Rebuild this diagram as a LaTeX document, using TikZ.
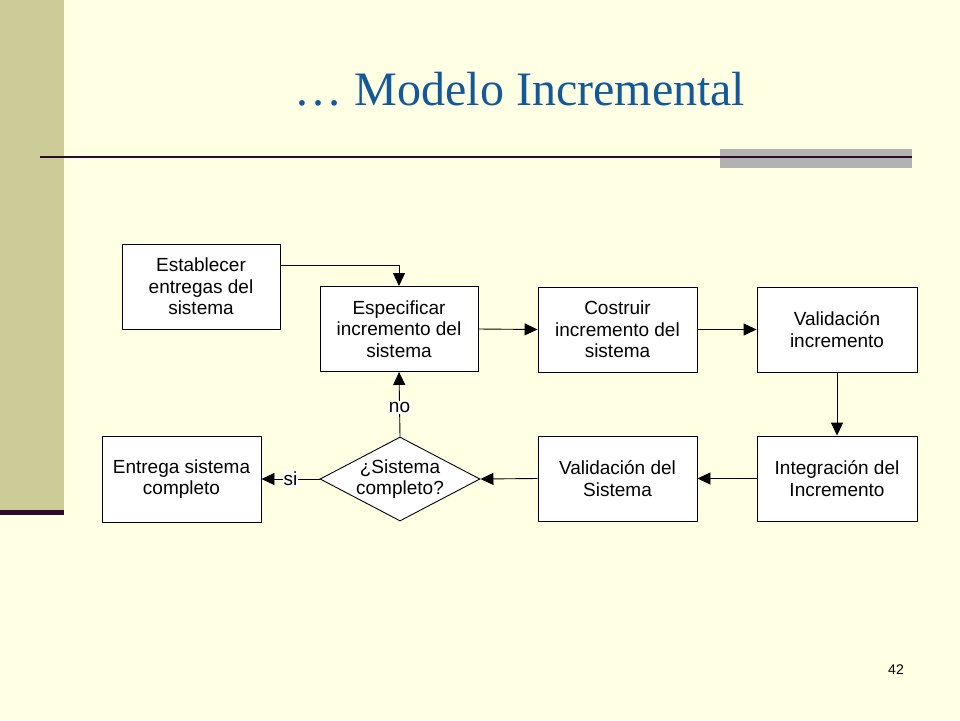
\documentclass[tikz,border=0pt]{standalone}
\usepackage{fontspec}
\setmainfont{Liberation Sans}
\newfontfamily\titlefont{Liberation Serif}
\usetikzlibrary{arrows.meta,shapes.geometric,calc}
\definecolor{bgcol}{HTML}{FFFFE3}
\definecolor{barcol}{HTML}{CCCC99}
\definecolor{linecol}{HTML}{2B0A2E}
\definecolor{graycol}{HTML}{B2B2B2}
\definecolor{titlecol}{HTML}{13589A}
\tikzset{
  box/.style={draw=black, fill=white, line width=0.9pt, minimum width=#1, minimum height=85pt,
    inner sep=0pt, align=center, font=\fontsize{19}{21.5}\selectfont},
  box/.default=159pt,
  flow/.style={draw=black, line width=0.9pt, -{Triangle[length=13pt,width=12pt]}},
  lbl/.style={fill=white, inner sep=1pt, font=\fontsize{19}{21}\selectfont}
}
\begin{document}
\begin{tikzpicture}[x=1pt,y=-1pt]
\useasboundingbox (0,0) rectangle (960,720);
\fill[bgcol] (0,0) rectangle (960,720);
\fill[barcol] (0,0) rectangle (64,510);
\fill[linecol] (0,510) rectangle (64,515);
\fill[graycol] (720,149) rectangle (912,167.5);
\draw[linecol, line width=2.5pt] (40,157) -- (912,157);
\node[anchor=base, text=titlecol, font=\titlefont\fontsize{48}{52}\selectfont] (title) at (520,105) {… Modelo Incremental};
\node[anchor=base, font=\fontsize{14}{16}\selectfont] (pg) at (896,674) {42};

\node[box=158pt] (est) at (201,286.5) {Establecer\\entregas del\\sistema};
\node[box=158pt] (esp) at (399,329) {Especificar\\incremento del\\sistema};
\node[box] (cos) at (617.5,329.5) {Costruir\\incremento del\\sistema};
\node[box=160pt] (vinc) at (837,329.5) {Validación\\incremento};
\node[box=160pt] (integ) at (837,478.5) {Integración del\\Incremento};
\node[box] (vsis) at (617.5,478.5) {Validación del\\Sistema};
\node[draw=black, fill=white, line width=0.9pt, diamond, minimum width=160pt, minimum height=84pt, inner sep=0pt,
  label={[align=center, font=\fontsize{19}{21.5}\selectfont]center:¿Sistema\\completo?}] (dec) at (400,479) {};
\node[box, minimum height=86pt] (ent) at (181.5,479) {Entrega sistema\\completo};

\draw[flow] ($(est.north east)!0.25!(est.south east)$) -| (esp.north);
\draw[flow] (esp.east) -- (cos.west);
\draw[flow] (cos.east) -- (vinc.west);
\draw[flow] (vinc.south) -- (integ.north);
\draw[flow] (integ.west) -- (vsis.east);
\draw[flow] (vsis.west) -- (dec.east);
\draw[flow] (dec.north) -- node[lbl, pos=0.45] (no) {no} (esp.south);
\draw[flow] (dec.west) -- node[lbl, pos=0.5] (si) {si} (ent.east);
\end{tikzpicture}
\end{document}
